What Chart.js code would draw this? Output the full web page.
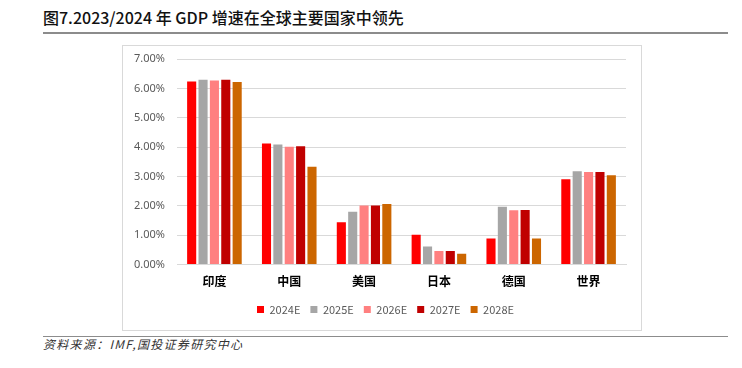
<!DOCTYPE html>
<html><head><meta charset="utf-8">
<script src="https://cdn.jsdelivr.net/npm/chart.js@4"></script>
<style>
body{margin:0;width:742px;height:368px;background:#fff;position:relative;overflow:hidden;font-family:"Noto Sans CJK SC",sans-serif;}
#title{position:absolute;left:43px;top:5px;font-size:16px;color:#111;font-family:"Noto Sans CJK SC";font-weight:500;letter-spacing:0px;white-space:nowrap;}
#l1{position:absolute;left:43px;top:32px;width:685px;height:2px;background:#8c8c8c;}
#l2{position:absolute;left:43px;top:336px;width:685px;height:1px;background:#8c8c8c;}
#src{position:absolute;left:43px;top:335px;font-size:12px;color:#333;font-style:italic;letter-spacing:1.3px;white-space:nowrap;}
#box{position:absolute;left:122px;top:45px;width:518px;height:284px;border:1px solid #d9d9d9;}
#box canvas{display:block;}
</style></head><body>
<div id="title">图7.2023/2024 年 GDP 增速在全球主要国家中领先</div>
<div id="l1"></div>
<div id="box"><canvas id="c"></canvas></div>
<div id="l2"></div>
<div id="src">资料来源：IMF,国投证券研究中心</div>
<script>
const categories=["印度","中国","美国","日本","德国","世界"];
const seriesNames=["2024E","2025E","2026E","2027E","2028E"];
const s2024=[6.23,4.12,1.44,1.02,0.89,2.91];
const s2025=[6.29,4.09,1.80,0.62,1.97,3.18];
const s2026=[6.27,4.01,2.01,0.46,1.85,3.15];
const s2027=[6.29,4.03,2.01,0.46,1.86,3.15];
const s2028=[6.22,3.33,2.06,0.37,0.89,3.04];
const yTicks=[0,1,2,3,4,5,6,7];
const colors=["#FF0000","#A6A6A6","#FF8080","#C00000","#CC6600"];
const all=[s2024,s2025,s2026,s2027,s2028];
const legendShift={id:'legendShift',afterLayout(chart){if(chart.legend){chart.legend.left+=9;chart.legend.right+=9;}}};
new Chart(document.getElementById('c'),{
 type:'bar',
 data:{labels:categories,datasets:all.map((d,i)=>({label:seriesNames[i],data:d,backgroundColor:colors[i],categoryPercentage:0.76,barPercentage:0.8}))},
 plugins:[legendShift],
 options:{responsive:true,maintainAspectRatio:false,animation:false,
  layout:{padding:{left:4,right:15,top:13,bottom:5}},
  plugins:{legend:{position:'bottom',labels:{boxWidth:7,boxHeight:7,padding:10,color:'#595959',font:{size:11,family:'"Noto Sans CJK SC"'}}},tooltip:{enabled:false}},
  scales:{
   x:{afterFit:a=>{a.height+=3;},grid:{display:false},border:{display:true,color:'#d9d9d9'},ticks:{color:'#000',font:{size:12,weight:'bold',family:'"Noto Sans CJK SC"'},padding:2}},
   y:{min:0,max:7,afterBuildTicks:a=>{a.ticks=yTicks.map(v=>({value:v}));},afterFit:a=>{a.width=50;a.paddingTop=0;a.paddingBottom=0;},grid:{color:'#d9d9d9',drawTicks:false},border:{display:false},ticks:{color:'#595959',padding:12,font:{size:11,family:'"Noto Sans","DejaVu Sans"'},callback:v=>v.toFixed(2)+'%'}}
  }}
});
</script></body></html>
